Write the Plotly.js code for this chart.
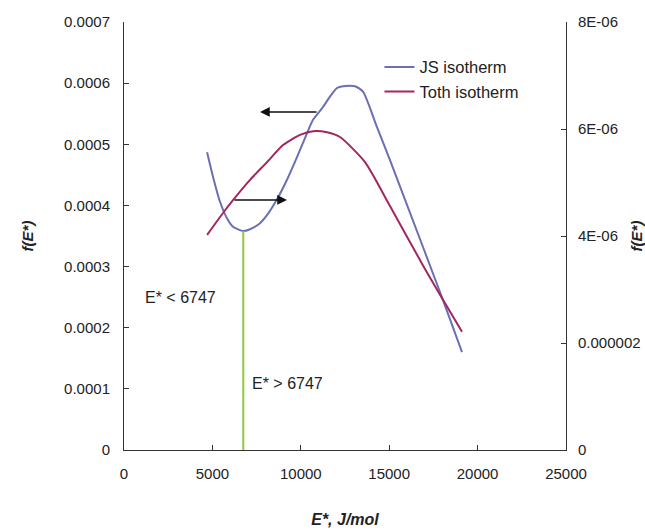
<!DOCTYPE html>
<html>
<head>
<meta charset="utf-8">
<script src="https://cdn.plot.ly/plotly-3.0.1.min.js"></script>
<style>html,body{margin:0;padding:0;background:#fff;}#chart{width:645px;height:530px;}</style>
</head>
<body>
<div id="chart"></div>
<script>
// JS isotherm (left axis)
const jsE = [4700, 5034, 5430, 5826, 6165, 6747, 7127, 7692, 8088, 8654, 9219, 9785, 10350, 10690, 11255, 11700, 12047, 12386, 13065, 13518, 14310, 15045, 16911, 18043, 19118];
const jsF = [0.000487, 0.000447, 0.000406, 0.000379, 0.000365, 0.000358, 0.000361, 0.000371, 0.000384, 0.000410, 0.000442, 0.000479, 0.000518, 0.000540, 0.000561, 0.000580, 0.000592, 0.000595, 0.000595, 0.000586, 0.000528, 0.000474, 0.000332, 0.000245, 0.000160];
// Toth isotherm (right axis)
const tothE = [4700, 5600, 6165, 7127, 8088, 8993, 9955, 10690, 11482, 12217, 13631, 15045, 16911, 17873, 19118];
const tothF = [4.02e-6, 4.43e-6, 4.67e-6, 5.05e-6, 5.38e-6, 5.70e-6, 5.89e-6, 5.96e-6, 5.94e-6, 5.85e-6, 5.38e-6, 4.56e-6, 3.45e-6, 2.90e-6, 2.21e-6];
// divider at E* = 6747
const dividerE = [6747, 6747];
const dividerF = [0, 0.000358];
// tick labels
const xTicks = [0, 5000, 10000, 15000, 20000, 25000];
const xTickText = ['0', '5000', '10000', '15000', '20000', '25000'];
const yTicks = [0, 0.0001, 0.0002, 0.0003, 0.0004, 0.0005, 0.0006, 0.0007];
const yTickText = ['0', '0.0001', '0.0002', '0.0003', '0.0004', '0.0005', '0.0006', '0.0007'];
const y2Ticks = [0, 2e-6, 4e-6, 6e-6, 8e-6];
const y2TickText = ['0', '0.000002', '4E-06', '6E-06', '8E-06'];
// arrows [tailE, tailF, headE, headF]
const arrowLeft = [10973, 0.000553, 7692, 0.000553];
const arrowRight = [6165, 0.000409, 9219, 0.000409];
const labelLow = {text: 'E* < 6747', e: 1075, f: 0.000250};
const labelHigh = {text: 'E* > 6747', e: 7127, f: 0.000108};

const font = 'Liberation Sans, Arial, sans-serif';
const traces = [
  {x: jsE, y: jsF, type: 'scatter', mode: 'lines', name: 'JS isotherm', line: {color: '#6b6fb3', width: 2, shape: 'spline', smoothing: 0.6}, yaxis: 'y'},
  {x: tothE, y: tothF, type: 'scatter', mode: 'lines', name: 'Toth isotherm', line: {color: '#a2275f', width: 2, shape: 'spline', smoothing: 0.6}, yaxis: 'y2'},
  {x: dividerE, y: dividerF, type: 'scatter', mode: 'lines', showlegend: false, line: {color: '#92c83e', width: 2}, yaxis: 'y'}
];
const axisCommon = {showgrid: false, zeroline: false, showline: true, linecolor: '#333', linewidth: 1, ticks: 'inside', ticklen: 5, tickcolor: '#333', tickfont: {family: font, size: 15, color: '#222'}};
const layout = {
  width: 645, height: 530,
  margin: {l: 124, r: 79, t: 22, b: 80},
  paper_bgcolor: '#fff', plot_bgcolor: '#fff',
  showlegend: true,
  legend: {x: 0.578, y: 0.935, xanchor: 'left', yanchor: 'top', bgcolor: 'rgba(0,0,0,0)', font: {family: font, size: 16.5, color: '#222'}, tracegroupgap: 2},
  xaxis: Object.assign({}, axisCommon, {range: [0, 25000], tickvals: xTicks, ticktext: xTickText, ticklabelstandoff: 10,
    title: {text: '<b><i>E*, J/mol</i></b>', font: {family: font, size: 16, color: '#222'}, standoff: 32}}),
  yaxis: Object.assign({}, axisCommon, {range: [0, 0.0007], tickvals: yTicks, ticktext: yTickText, ticklabelstandoff: 10,
    title: {text: '<b><i>f(E*)</i></b>', font: {family: font, size: 15, color: '#222'}, standoff: 26}}),
  yaxis2: Object.assign({}, axisCommon, {range: [0, 8e-6], overlaying: 'y', side: 'right', tickvals: y2Ticks, ticktext: y2TickText, ticklabelstandoff: 8,
    title: {text: '<b><i>f(E*)</i></b>', font: {family: font, size: 15, color: '#222'}, standoff: 6}}),
  annotations: [
    {x: arrowLeft[2], y: arrowLeft[3], ax: arrowLeft[0], ay: arrowLeft[1], xref: 'x', yref: 'y', axref: 'x', ayref: 'y', text: '', showarrow: true, arrowhead: 2, arrowsize: 1.3, arrowwidth: 1.5, arrowcolor: '#111'},
    {x: arrowRight[2], y: arrowRight[3], ax: arrowRight[0], ay: arrowRight[1], xref: 'x', yref: 'y', axref: 'x', ayref: 'y', text: '', showarrow: true, arrowhead: 2, arrowsize: 1.3, arrowwidth: 1.5, arrowcolor: '#111'},
    {x: labelLow.e, y: labelLow.f, xref: 'x', yref: 'y', text: labelLow.text, showarrow: false, xanchor: 'left', yanchor: 'middle', font: {family: font, size: 16, color: '#222'}},
    {x: labelHigh.e, y: labelHigh.f, xref: 'x', yref: 'y', text: labelHigh.text, showarrow: false, xanchor: 'left', yanchor: 'middle', font: {family: font, size: 16, color: '#222'}}
  ]
};
Plotly.newPlot('chart', traces, layout, {displayModeBar: false, staticPlot: true});
</script>
</body>
</html>
